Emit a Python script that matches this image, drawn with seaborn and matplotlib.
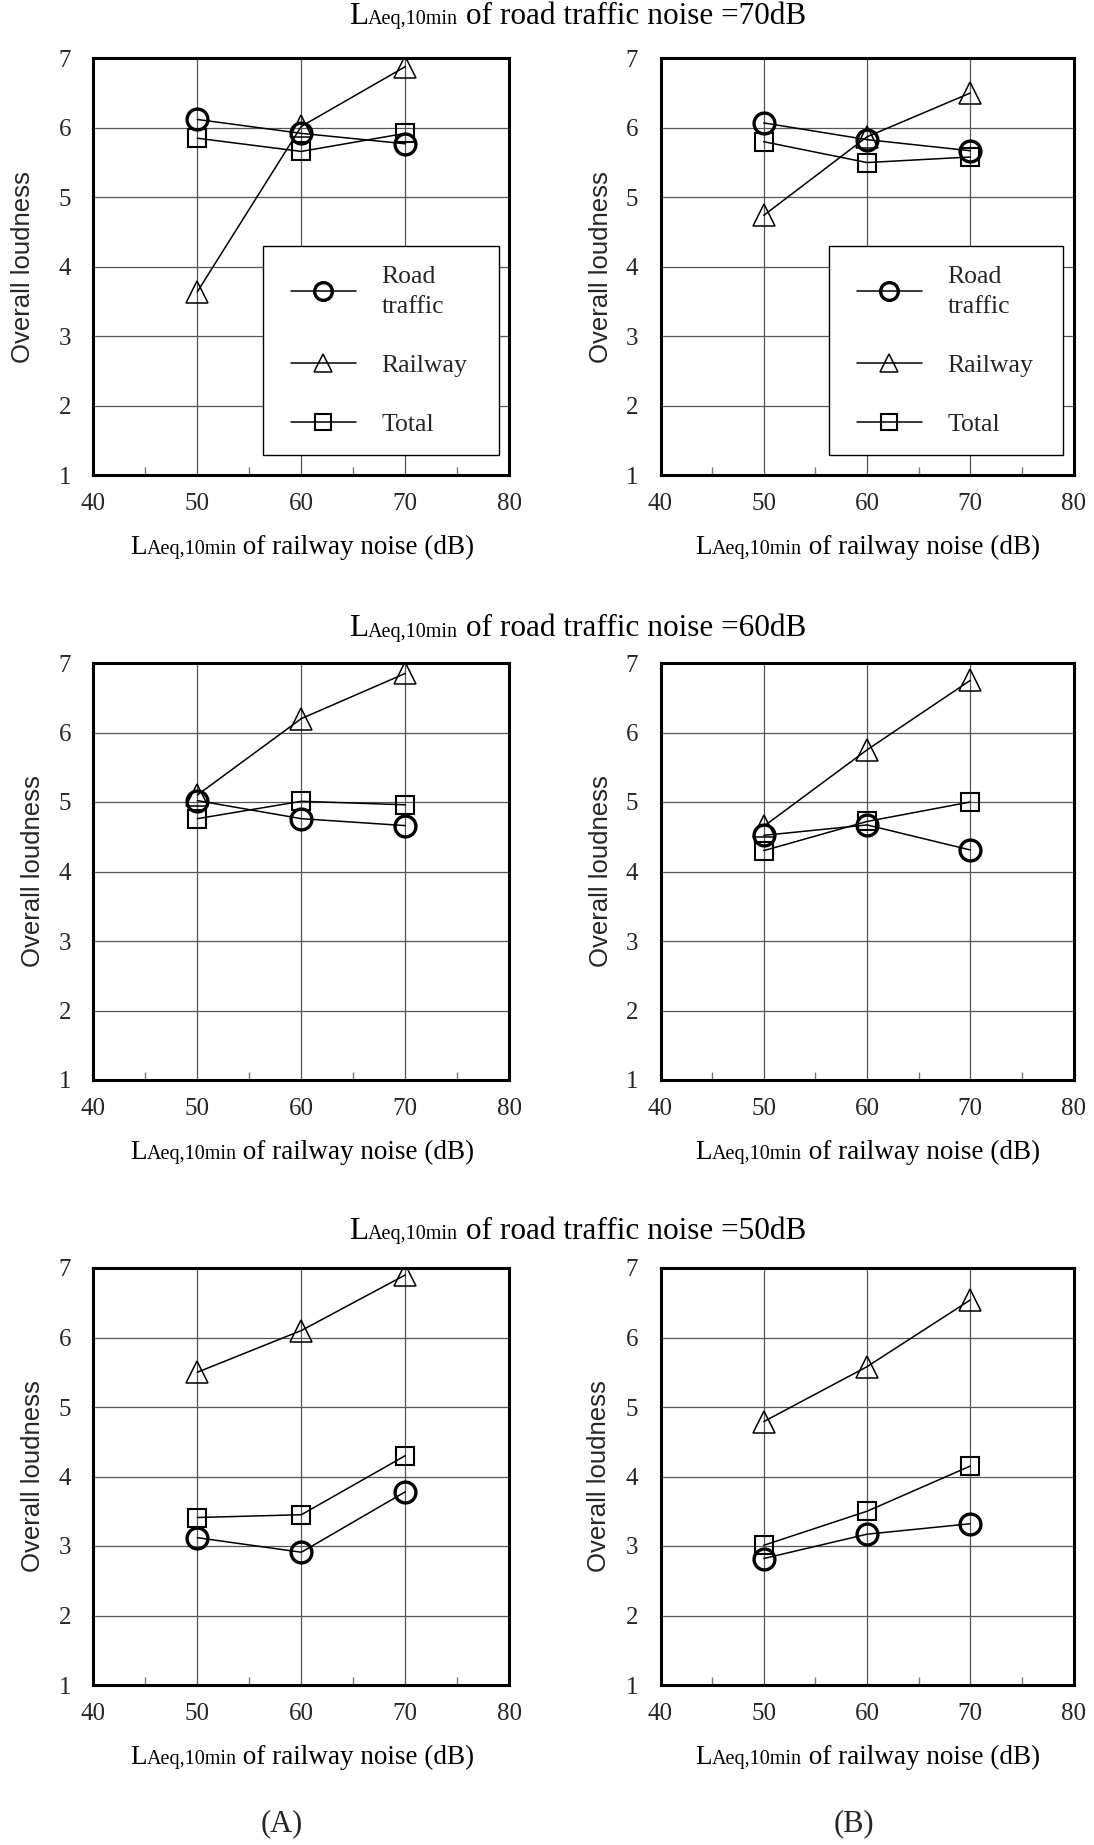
import numpy as np
import pandas as pd
import seaborn as sns
import matplotlib
matplotlib.use("Agg")
import matplotlib.pyplot as plt
from matplotlib.ticker import FixedLocator
from matplotlib.offsetbox import TextArea, HPacker, AnnotationBbox
from matplotlib.lines import Line2D
from matplotlib.legend_handler import HandlerLine2D

# ---------------- data ----------------
railway_levels = [50, 60, 70]          # LAeq,10min of railway noise (dB)
road_levels = [70, 60, 50]             # rows: road traffic noise level
panel_names = ["A", "B"]
series_names = ["Road traffic", "Railway", "Total"]
legend_labels = ["Road\ntraffic", "Railway", "Total"]

# row: road 70 dB
road_A_70 = [6.12, 5.92, 5.77]
railway_A_70 = [3.64, 6.02, 6.88]
total_A_70 = [5.85, 5.66, 5.92]
road_B_70 = [6.07, 5.83, 5.67]
railway_B_70 = [4.74, 5.87, 6.50]
total_B_70 = [5.80, 5.50, 5.58]
# row: road 60 dB
road_A_60 = [5.02, 4.76, 4.66]
railway_A_60 = [5.10, 6.20, 6.85]
total_A_60 = [4.76, 5.01, 4.96]
road_B_60 = [4.52, 4.67, 4.31]
railway_B_60 = [4.65, 5.75, 6.75]
total_B_60 = [4.30, 4.72, 5.00]
# row: road 50 dB
road_A_50 = [3.12, 2.91, 3.78]
railway_A_50 = [5.50, 6.10, 6.90]
total_A_50 = [3.41, 3.45, 4.30]
road_B_50 = [2.82, 3.17, 3.32]
railway_B_50 = [4.79, 5.58, 6.54]
total_B_50 = [3.01, 3.50, 4.15]

x_ticks = [40, 50, 60, 70, 80]
y_ticks = [1, 2, 3, 4, 5, 6, 7]
x_minor = [45, 55, 65, 75]

values = {
    (70, "A"): [road_A_70, railway_A_70, total_A_70],
    (70, "B"): [road_B_70, railway_B_70, total_B_70],
    (60, "A"): [road_A_60, railway_A_60, total_A_60],
    (60, "B"): [road_B_60, railway_B_60, total_B_60],
    (50, "A"): [road_A_50, railway_A_50, total_A_50],
    (50, "B"): [road_B_50, railway_B_50, total_B_50],
}
rows = []
for (road, panel), series in values.items():
    for name, ys in zip(series_names, series):
        for x, y in zip(railway_levels, ys):
            rows.append(dict(road=road, panel=panel, source=name, railway=x, loudness=y))
df = pd.DataFrame(rows)

# ---------------- style ----------------
sns.set_style("white")
plt.rcParams["font.family"] = ["Liberation Serif", "DejaVu Serif"]

styles = {
    "Road traffic": dict(marker="o", markersize=15, markeredgewidth=2.4),
    "Railway": dict(marker="^", markersize=16, markeredgewidth=1.1),
    "Total": dict(marker="s", markersize=13.5, markeredgewidth=1.5),
}

W, H = 1094, 1845
fig = plt.figure(figsize=(W / 100, H / 100), dpi=100)

col_left = {"A": 93.3, "B": 660.5}
col_width = {"A": 416, "B": 413}
row_top = {70: 58.3, 60: 663, 50: 1268}
ax_h = 417

serif = "Liberation Serif"


def mixed_text(x_px, y_px, parts):
    kids = [TextArea(t, textprops=dict(fontsize=s, family=serif, color="black"))
            for t, s in parts]
    box = HPacker(children=kids, align="baseline", pad=0, sep=0)
    ab = AnnotationBbox(box, (x_px / W, 1 - y_px / H), xycoords="figure fraction",
                        frameon=False, box_alignment=(0.5, 0.5), pad=0)
    fig.add_artist(ab)


ylab_off = {(70, "A"): 70, (70, "B"): 59, (60, "A"): 60, (60, "B"): 59,
            (50, "A"): 60, (50, "B"): 62}

for road in road_levels:
    top = row_top[road]
    for panel in panel_names:
        left = col_left[panel]
        w = col_width[panel]
        ax = fig.add_axes([left / W, 1 - (top + ax_h) / H, w / W, ax_h / H])
        sub = df[(df.road == road) & (df.panel == panel)]
        for name in series_names:
            s = sub[sub.source == name]
            sns.lineplot(data=s, x="railway", y="loudness", ax=ax, color="black",
                         lw=1.1, markerfacecolor="none", markeredgecolor="black",
                         zorder=3, legend=False, **styles[name])
        ax.set_xlim(40, 80)
        ax.set_ylim(1, 7)
        ax.xaxis.set_major_locator(FixedLocator(x_ticks))
        ax.yaxis.set_major_locator(FixedLocator(y_ticks))
        ax.xaxis.set_minor_locator(FixedLocator(x_minor))
        ax.grid(True, which="major", color="#555555", lw=0.9, zorder=0)
        ax.tick_params(axis="both", which="major", length=0, labelsize=18)
        ax.tick_params(axis="x", which="major", pad=13)
        ax.tick_params(axis="y", which="major", pad=16)
        ax.tick_params(axis="x", which="minor", direction="in", length=6,
                       width=1, color="#777777", bottom=True, top=False)
        ax.tick_params(axis="y", which="minor", length=0)
        for lab in ax.get_xticklabels() + ax.get_yticklabels():
            lab.set_family(serif)
        for sp in ax.spines.values():
            sp.set_linewidth(2.2)
            sp.set_color("black")
        ax.set_xlabel("")
        ax.set_ylabel("Overall loudness", fontsize=18.5, family="Liberation Sans", va="center")
        ax.yaxis.set_label_coords(-ylab_off[(road, panel)] / w, 0.5)

        # x label with smaller "Aeq,10min"
        mixed_text(left + w / 2 + 1, top + ax_h + 72,
                   [("L", 19.5), ("Aeq,10min", 14.5), (" of railway noise (dB)", 19.5)])

        if road == 70:
            handles = [Line2D([], [], color="black", lw=1.1, markerfacecolor="none",
                              markeredgecolor="black", **styles[n]) for n in series_names]
            leg = ax.legend(handles, legend_labels, loc="lower left",
                            bbox_to_anchor=(0.408, 0.048, 0.567, 0.5), mode="expand",
                            borderaxespad=0, frameon=True, fancybox=False, framealpha=1,
                            edgecolor="black", prop=dict(family=serif, size=18.5),
                            handlelength=2.86, handletextpad=1.0, labelspacing=1.4,
                            borderpad=0.75, markerscale=0.85,
                            handler_map={Line2D: HandlerLine2D(xpad=0.33)})
            for t in leg.get_texts():
                t.set_linespacing(1.5)
            leg.get_frame().set_linewidth(1.0)
            leg.set_zorder(5)

    # row title
    ty = {70: 16.5, 60: 629, 50: 1231.5}[road]
    mixed_text(577.5, ty, [("L", 22.5), ("Aeq,10min", 14.5),
                           (f" of road traffic noise ={road}dB", 22.5)])

fig.text(282 / W, 1 - 1824 / H, "(A)", ha="center", va="center", fontsize=22, family=serif)
fig.text(854 / W, 1 - 1824 / H, "(B)", ha="center", va="center", fontsize=22, family=serif)

fig.savefig("out.png", dpi=100, facecolor="white")
